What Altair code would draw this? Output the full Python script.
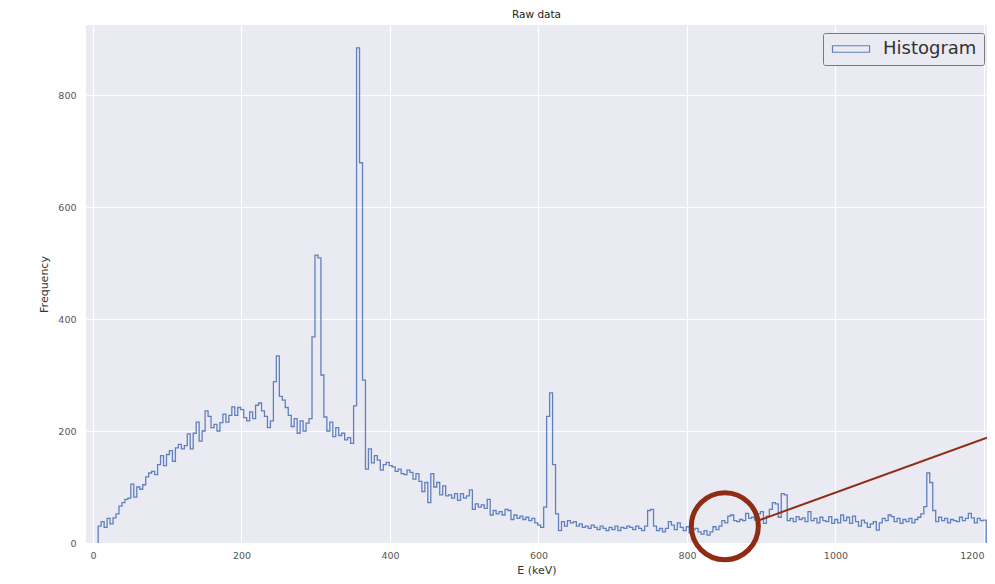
import altair as alt
import pandas as pd

# ---------------- data ----------------
BIN_START = 7      # keV, left edge of the first bin
BIN_WIDTH = 4      # keV
COUNTS = [
    30, 38, 28, 44, 34, 45, 52, 66, 72, 78,
    80, 105, 82, 100, 96, 104, 118, 125, 128, 122,
    140, 156, 138, 158, 165, 146, 170, 176, 168, 174,
    195, 168, 196, 216, 182, 200, 236, 226, 206, 212,
    200, 215, 230, 216, 228, 243, 228, 242, 238, 224,
    218, 234, 222, 246, 250, 236, 226, 206, 218, 288,
    334, 262, 255, 242, 228, 208, 222, 196, 218, 200,
    214, 222, 368, 514, 509, 300, 225, 200, 216, 190,
    206, 192, 196, 184, 188, 178, 245, 884, 679, 291,
    132, 168, 143, 156, 148, 130, 140, 144, 138, 136,
    128, 132, 124, 122, 130, 126, 114, 124, 110, 92,
    108, 72, 124, 100, 108, 86, 102, 84, 86, 80,
    88, 76, 88, 80, 84, 95, 60, 70, 64, 68,
    62, 78, 50, 58, 52, 56, 50, 60, 58, 42,
    50, 44, 48, 42, 46, 40, 44, 36, 32, 28,
    64, 226, 268, 140, 52, 22, 38, 30, 40, 36,
    38, 30, 34, 28, 30, 26, 32, 28, 24, 30,
    26, 22, 28, 24, 30, 22, 28, 26, 30, 28,
    24, 30, 26, 22, 30, 58, 60, 30, 22, 26,
    20, 26, 38, 32, 24, 36, 28, 22, 29, 18,
    24, 26, 20, 16, 22, 14, 20, 29, 24, 30,
    40, 36, 48, 50, 40, 38, 42, 40, 53, 44,
    46, 41, 52, 56, 35, 48, 60, 72, 70, 46,
    88, 86, 40, 44, 38, 47, 42, 45, 38, 56,
    40, 44, 36, 46, 40, 38, 47, 35, 42, 36,
    50, 40, 46, 35, 48, 38, 30, 41, 36, 28,
    34, 38, 23, 36, 44, 40, 50, 47, 38, 44,
    35, 42, 38, 44, 36, 42, 46, 52, 65, 125,
    108, 58, 38, 46, 40, 44, 36, 42, 40, 38,
    46, 40, 44, 53, 45, 36, 44, 40, 41,
]
SERIES_NAME = "Histogram"

X_TICKS = [0, 200, 400, 600, 800, 1000, 1200]
Y_TICKS = [0, 200, 400, 600, 800]

# annotation (red circle + pointer line), in data coordinates
CIRCLE_X, CIRCLE_Y = [851], [30]
LINE_X, LINE_Y, LINE_X2, LINE_Y2 = [898], [41], [1204], [188]

# ---------------- build step outline ----------------
edges = [BIN_START + BIN_WIDTH * i for i in range(len(COUNTS))]
end_edge = BIN_START + BIN_WIDTH * len(COUNTS)
xs = [BIN_START] + edges + [end_edge]
ys = [0] + COUNTS + [0]
hist_df = pd.DataFrame({
    "E": xs,
    "count": ys,
    "order": list(range(len(xs))),
    "series": [SERIES_NAME] * len(xs),
})

X_DOMAIN = [-9.4, 1204.1]
Y_DOMAIN = [0, 925]
FONT = "DejaVu Sans"
LINE_COLOR = "#6080BE"
ANNOT_COLOR = "#8E2C14"

x_enc = alt.X("E:Q", scale=alt.Scale(domain=X_DOMAIN, nice=False, zero=False),
              axis=alt.Axis(values=X_TICKS, format="d", title="E (keV)",
                            labelPadding=7, titlePadding=5, labelFlush=5))
y_enc = alt.Y("count:Q", scale=alt.Scale(domain=Y_DOMAIN, nice=False),
              axis=alt.Axis(values=Y_TICKS, format="d", title="Frequency",
                            labelPadding=10, titlePadding=8))

# wide rectangle swatch: left edge at the nominal symbol box, extends right
rect_path = "M-1,-0.5H4.7V0.5H-1Z"

hist = alt.Chart(hist_df).mark_line(
    interpolate="step-after", strokeWidth=1.3
).encode(
    x=x_enc,
    y=y_enc,
    order="order:Q",
    color=alt.Color(
        "series:N",
        scale=alt.Scale(domain=[SERIES_NAME], range=[LINE_COLOR]),
        legend=alt.Legend(
            title=None, orient="none", legendX=737, legendY=8,
            symbolType=rect_path, symbolSize=169, symbolStrokeWidth=1.2,
            symbolFillColor="transparent",
            labelFont=FONT, labelFontSize=18, labelColor="#333333",
            labelOffset=35, padding=7, strokeColor="#7a7a7a",
            fillColor="#EAEAF2", cornerRadius=2,
        ),
    ),
)

circle = alt.Chart(pd.DataFrame({"E": CIRCLE_X, "count": CIRCLE_Y})).mark_point(
    shape="circle", size=4489, filled=False, strokeWidth=5,
    color=ANNOT_COLOR, opacity=1
).encode(x="E:Q", y="count:Q")

pointer = alt.Chart(pd.DataFrame({
    "E": LINE_X, "count": LINE_Y, "E2": LINE_X2, "count2": LINE_Y2
})).mark_rule(color=ANNOT_COLOR, strokeWidth=2).encode(
    x="E:Q", y="count:Q", x2="E2:Q", y2="count2:Q"
)

chart = alt.layer(hist, pointer, circle).properties(
    width=901,
    height=518,
    padding={"left": 78, "top": 17, "right": 0, "bottom": 33},
    autosize=alt.AutoSizeParams(type="none"),
    background="white",
    title=alt.Title("Raw data", font=FONT, fontSize=10.5, fontWeight="normal",
                    color="#222222", offset=5),
).configure_view(
    fill="#EAEAF2", stroke=None
).configure_axis(
    grid=True, gridColor="white", gridWidth=1.2, domain=False, ticks=False,
    labelFont=FONT, labelFontSize=9.5, labelColor="#555555",
    titleFont=FONT, titleFontSize=11, titleColor="#333333",
    titleFontWeight="normal",
)

chart.save("out.html", embed_options={"renderer": "svg", "actions": False})
